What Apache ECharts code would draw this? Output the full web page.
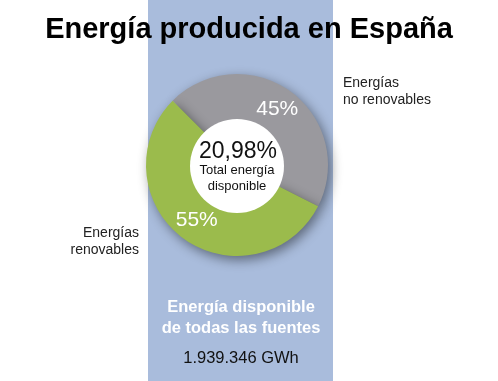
<!DOCTYPE html>
<html><head><meta charset="utf-8">
<script src="https://cdn.jsdelivr.net/npm/echarts@6/dist/echarts.min.js"></script>
<style>html,body{margin:0;padding:0;background:#fff}#c{width:498px;height:381px}</style>
</head><body><div id="c"></div>
<script>
const categories = ['Energías no renovables', 'Energías renovables'];
const values = [45, 55];
const colors = ['#9a999e', '#9bbb4c'];
const centerValue = '20,98%';
const totalText = '1.939.346 GWh';

const chart = echarts.init(document.getElementById('c'));
const F = 'Liberation Sans, Arial, sans-serif';
chart.setOption({
  animation: false,
  title: {
    text: 'Energía producida en España', left: 'center', top: 10,
    textStyle: { fontFamily: F, fontSize: 29, fontWeight: 'bold', color: '#000' }
  },
  graphic: [
    { type: 'rect', z: -10, shape: { x: 148, y: 0, width: 185, height: 381 }, style: { fill: '#a9bcdc' } },
    { type: 'circle', z: 10, shape: { cx: 237, cy: 166, r: 47 }, style: { fill: '#fff' } },
    { type: 'text', z: 11, style: { text: centerValue, x: 238, y: 152, align: 'center', verticalAlign: 'middle', font: '23px ' + F, fill: '#111' } },
    { type: 'text', z: 11, style: { text: 'Total energía\ndisponible', x: 237, y: 178, align: 'center', verticalAlign: 'middle', font: '13px ' + F, fill: '#111', lineHeight: 16 } },
    { type: 'text', style: { text: 'Energías\nno renovables', x: 343, y: 92, align: 'left', verticalAlign: 'middle', font: '14px ' + F, fill: '#222', lineHeight: 17 } },
    { type: 'text', style: { text: 'Energías\nrenovables', x: 139, y: 242, align: 'right', verticalAlign: 'middle', font: '14px ' + F, fill: '#222', lineHeight: 17 } },
    { type: 'text', style: { text: 'Energía disponible\nde todas las fuentes', x: 241, y: 318, align: 'center', verticalAlign: 'middle', font: 'bold 16.5px ' + F, fill: '#fff', lineHeight: 21 } },
    { type: 'text', style: { text: totalText, x: 241, y: 358, align: 'center', verticalAlign: 'middle', font: '16.5px ' + F, fill: '#111' } }
  ],
  series: [{
    type: 'pie',
    center: [237, 165],
    radius: [40, 91],
    startAngle: 135,
    clockwise: true,
    silent: true,
    itemStyle: { shadowBlur: 12, shadowColor: 'rgba(0,0,0,0.45)', shadowOffsetX: 3, shadowOffsetY: 4 },
    label: {
      position: 'inside', formatter: '{c}%', color: '#fff',
      fontFamily: F, fontSize: 21
    },
    labelLine: { show: false },
    data: categories.map((n, i) => ({ name: n, value: values[i], itemStyle: { color: colors[i] } }))
  }]
});
</script></body></html>
